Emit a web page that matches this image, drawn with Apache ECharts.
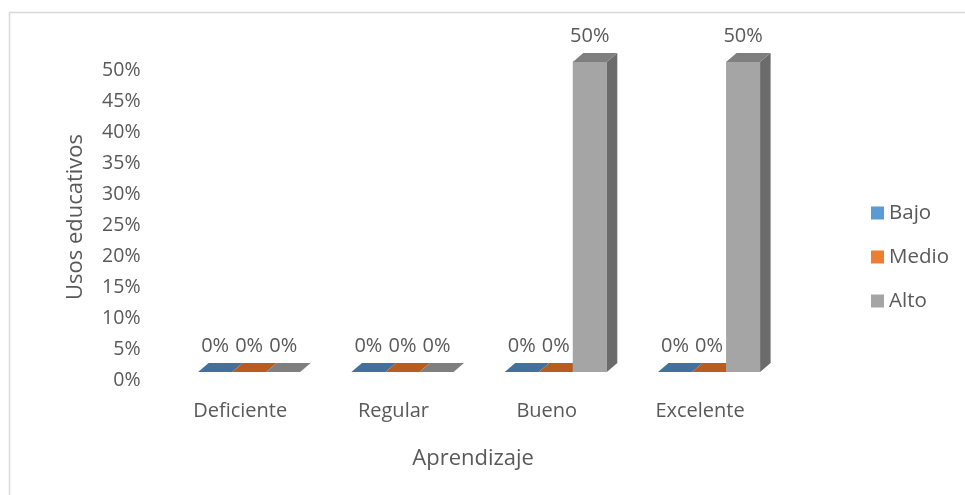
<!DOCTYPE html>
<html>
<head>
<meta charset="utf-8">
<script src="https://cdn.jsdelivr.net/npm/echarts@6/dist/echarts.min.js"></script>
<style>
  html, body { margin: 0; padding: 0; background: #ffffff; }
  #chart { width: 965px; height: 495px; }
</style>
</head>
<body>
<div id="chart"></div>
<script>
// Data
const categories = ['Deficiente', 'Regular', 'Bueno', 'Excelente'];
const seriesNames = ['Bajo', 'Medio', 'Alto'];
const bajo = [0, 0, 0, 0];
const medio = [0, 0, 0, 0];
const alto = [0, 0, 0.5, 0.5];
const yTicks = [0, 0.05, 0.1, 0.15, 0.2, 0.25, 0.3, 0.35, 0.4, 0.45, 0.5];

// Face colours per series: front, top, side
const faceColors = [
  { front: '#5b9bd5', top: '#41719c', side: '#3a6591' },
  { front: '#ed7d31', top: '#b85c1f', side: '#a4521b' },
  { front: '#a5a5a5', top: '#7f7f7f', side: '#6b6b6b' }
];
const FONT = '"Open Sans", sans-serif';
const TEXT = '#595959';
const DEPTH_X = 10.5, DEPTH_Y = -9;

const pct = v => Math.round(v * 100) + '%';

function makeRender(idx) {
  const c = faceColors[idx];
  return function (params, api) {
    const cat = api.value(0);
    const val = api.value(1);
    const base = api.coord([cat, 0]);
    const top = api.coord([cat, val]);
    const band = api.size([1, 0])[0];
    const bw = band * 0.222;
    const x0 = base[0] + (idx - 1) * bw - bw / 2;
    const x1 = x0 + bw;
    const yb = base[1], yt = top[1];
    const children = [];
    if (yb - yt > 0.5) {
      children.push({ type: 'rect', shape: { x: x0, y: yt, width: bw, height: yb - yt }, style: { fill: c.front } });
      children.push({ type: 'polygon', shape: { points: [[x1, yt], [x1 + DEPTH_X, yt + DEPTH_Y], [x1 + DEPTH_X, yb + DEPTH_Y], [x1, yb]] }, style: { fill: c.side } });
    }
    children.push({ type: 'polygon', shape: { points: [[x0, yt], [x1, yt], [x1 + DEPTH_X, yt + DEPTH_Y], [x0 + DEPTH_X, yt + DEPTH_Y]] }, style: { fill: c.top } });
    children.push({
      type: 'text',
      style: {
        x: x0 + bw / 2, y: yt + DEPTH_Y - 7,
        text: pct(val), fill: TEXT, font: '20px ' + FONT,
        textAlign: 'center', textVerticalAlign: 'bottom'
      }
    });
    return { type: 'group', children: children };
  };
}

const seriesData = [bajo, medio, alto];
const chart = echarts.init(document.getElementById('chart'), null, { renderer: 'canvas' });
chart.setOption({
  backgroundColor: '#ffffff',
  animation: false,
  graphic: [{
    type: 'rect', left: 7, top: 10, z: -10,
    shape: { width: 1000, height: 1000 },
    style: { fill: 'none', stroke: '#d9d9d9', lineWidth: 1.5 }
  }],
  grid: { left: 172.5, right: 179.3, top: 62, bottom: 123, containLabel: false },
  legend: {
    orient: 'vertical', left: 866, top: 197,
    itemWidth: 13, itemHeight: 13, itemGap: 22,
    icon: 'rect',
    textStyle: { color: TEXT, fontSize: 20.5, fontFamily: FONT, lineHeight: 22 },
    data: seriesNames
  },
  xAxis: {
    type: 'category', data: categories,
    axisLine: { show: false }, axisTick: { show: false }, splitLine: { show: false },
    axisLabel: { color: TEXT, fontSize: 20, fontFamily: FONT, margin: 29, padding: [0, 18, 0, 0] },
    name: 'Aprendizaje', nameLocation: 'middle', nameGap: 76,
    nameTextStyle: { color: TEXT, fontSize: 22, fontFamily: FONT, padding: [0, 12, 0, 0] }
  },
  yAxis: {
    type: 'value', min: yTicks[0], max: yTicks[yTicks.length - 1], interval: yTicks[1],
    axisLine: { show: false }, axisTick: { show: false }, splitLine: { show: false },
    axisLabel: { color: TEXT, fontSize: 19.5, fontFamily: FONT, margin: 32, verticalAlign: 'top', lineHeight: 16, formatter: v => pct(v) },
    name: 'Usos educativos', nameLocation: 'middle', nameGap: 78,
    nameTextStyle: { color: TEXT, fontSize: 22, fontFamily: FONT, padding: [0, 0, 8, 0] }
  },
  series: seriesNames.map((name, i) => ({
    name: name,
    type: 'custom',
    itemStyle: { color: faceColors[i].front },
    renderItem: makeRender(i),
    encode: { x: 0, y: 1 },
    data: seriesData[i].map((v, k) => [k, v])
  }))
});
</script>
</body>
</html>
